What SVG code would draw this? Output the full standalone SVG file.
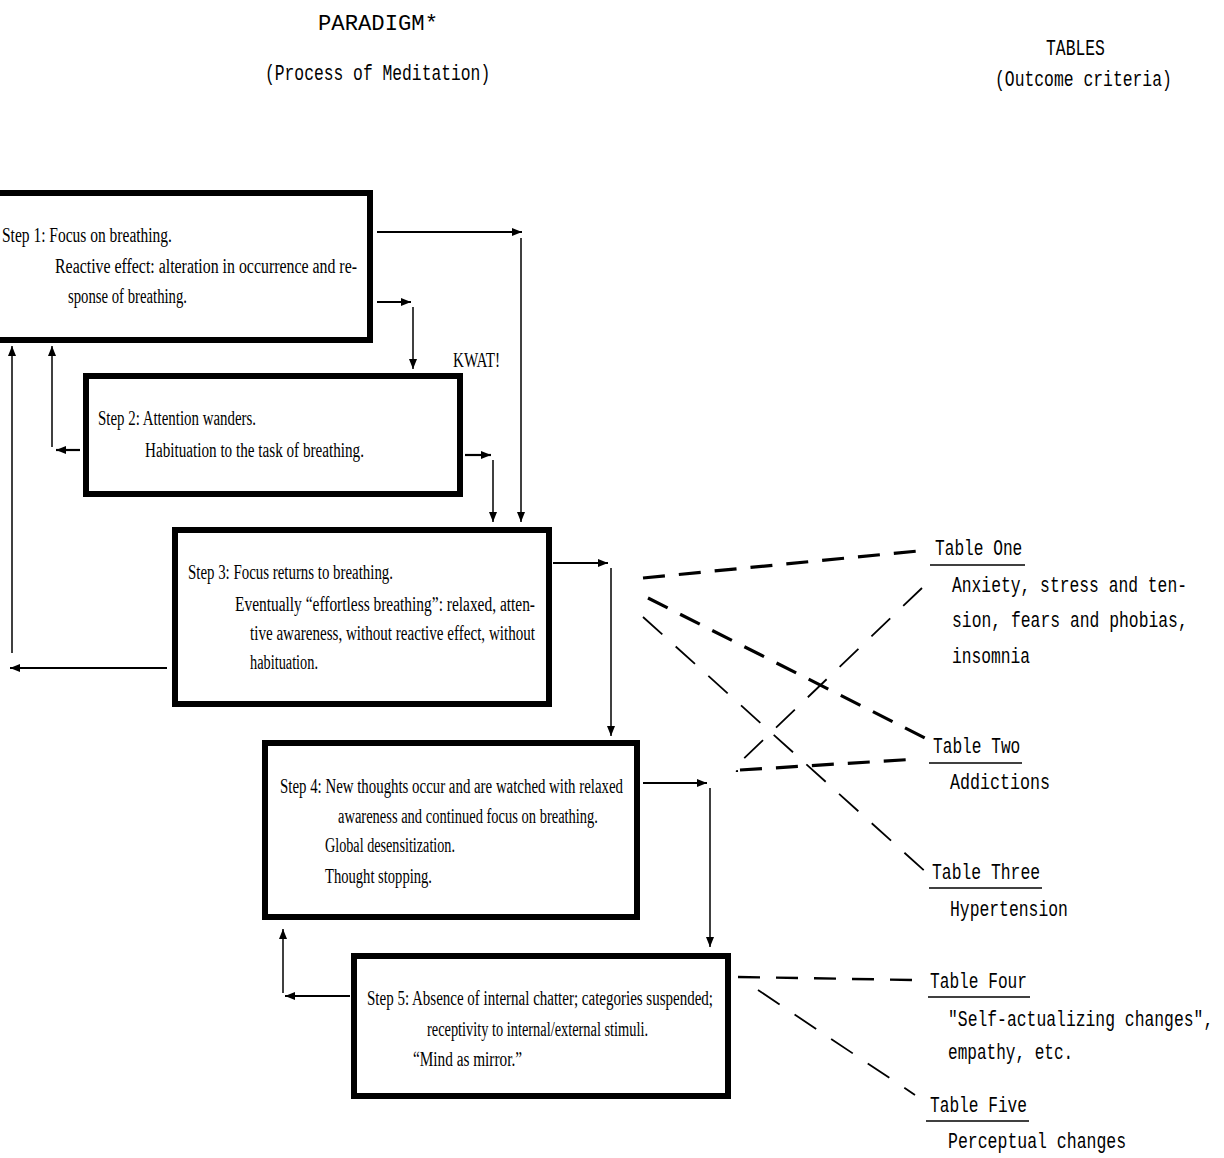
<svg xmlns="http://www.w3.org/2000/svg" width="1224" height="1158" viewBox="0 0 1224 1158">
<style>
.bx{fill:#fff;stroke:#000;stroke-width:6}
.t{font-family:"Liberation Serif","Times New Roman",serif;font-size:20px;fill:#000}
.m{font-family:"Liberation Mono","Courier New",monospace;font-size:22px;fill:#000}
.ln{stroke:#000;fill:none}
.ar{stroke:#000;fill:none;stroke-width:2.2;marker-end:url(#ah)}
.av{stroke:#000;fill:none;stroke-width:1.5;marker-end:url(#ah)}
.dk{stroke:#000;fill:none;stroke-width:3.2;stroke-dasharray:22 14}
.dt{stroke:#000;fill:none;stroke-width:1.8;stroke-dasharray:26 18}
.ul{stroke:#000;stroke-width:1.6}
</style>
<defs>
<marker id="ah" viewBox="0 0 10 8" refX="10" refY="4" markerWidth="10" markerHeight="8" markerUnits="userSpaceOnUse" orient="auto">
<path d="M0,0 L10,4 L0,8 Z" fill="#000"/>
</marker>
</defs>
<rect width="1224" height="1158" fill="#fff"/>

<g id="titles">
<text class="m" x="318" y="30" textLength="120" lengthAdjust="spacingAndGlyphs">PARADIGM*</text>
<text class="m" transform="translate(265,80) scale(0.742,1)">(Process of Meditation)</text>
<text class="m" transform="translate(1046,55) scale(0.745,1)">TABLES</text>
<text class="m" transform="translate(995,86) scale(0.745,1)">(Outcome criteria)</text>
</g>

<g id="step1">
<rect class="bx" x="-10" y="193" width="380" height="147"/>
<text class="t" x="2" y="242" textLength="170" lengthAdjust="spacingAndGlyphs">Step 1: Focus on breathing.</text>
<text class="t" x="55" y="273" textLength="302" lengthAdjust="spacingAndGlyphs">Reactive effect: alteration in occurrence and re-</text>
<text class="t" x="68" y="303" textLength="119" lengthAdjust="spacingAndGlyphs">sponse of breathing.</text>
</g>

<g id="kwat">
<text class="t" x="453" y="367" textLength="47" lengthAdjust="spacingAndGlyphs">KWAT!</text>
</g>

<g id="step2">
<rect class="bx" x="86" y="376" width="374" height="118"/>
<text class="t" x="98" y="425" textLength="158" lengthAdjust="spacingAndGlyphs">Step 2: Attention wanders.</text>
<text class="t" x="145" y="457" textLength="219" lengthAdjust="spacingAndGlyphs">Habituation to the task of breathing.</text>
</g>

<g id="step3">
<rect class="bx" x="175" y="530" width="374" height="174"/>
<text class="t" x="188" y="579" textLength="205" lengthAdjust="spacingAndGlyphs">Step 3: Focus returns to breathing.</text>
<text class="t" x="235" y="611" textLength="300" lengthAdjust="spacingAndGlyphs">Eventually “effortless breathing”: relaxed, atten-</text>
<text class="t" x="250" y="640" textLength="285" lengthAdjust="spacingAndGlyphs">tive awareness, without reactive effect, without</text>
<text class="t" x="250" y="669" textLength="68" lengthAdjust="spacingAndGlyphs">habituation.</text>
</g>

<g id="step4">
<rect class="bx" x="265" y="743" width="372" height="174"/>
<text class="t" x="280" y="793" textLength="343" lengthAdjust="spacingAndGlyphs">Step 4: New thoughts occur and are watched with relaxed</text>
<text class="t" x="338" y="823" textLength="260" lengthAdjust="spacingAndGlyphs">awareness and continued focus on breathing.</text>
<text class="t" x="325" y="852" textLength="130" lengthAdjust="spacingAndGlyphs">Global desensitization.</text>
<text class="t" x="325" y="883" textLength="107" lengthAdjust="spacingAndGlyphs">Thought stopping.</text>
</g>

<g id="step5">
<rect class="bx" x="354" y="956" width="374" height="140"/>
<text class="t" x="367" y="1005" textLength="346" lengthAdjust="spacingAndGlyphs">Step 5: Absence of internal chatter; categories suspended;</text>
<text class="t" x="427" y="1036" textLength="221" lengthAdjust="spacingAndGlyphs">receptivity to internal/external stimuli.</text>
<text class="t" x="413" y="1066" textLength="109" lengthAdjust="spacingAndGlyphs">“Mind as mirror.”</text>
</g>

<g id="table1">
<text class="m" transform="translate(935,555) scale(0.735,1)">Table One</text>
<line class="ul" x1="930" y1="565" x2="1025" y2="565"/>
<text class="m" transform="translate(952,592) scale(0.742,1)">Anxiety, stress and ten-</text>
<text class="m" transform="translate(952,627) scale(0.745,1)">sion, fears and phobias,</text>
<text class="m" transform="translate(952,663) scale(0.74,1)">insomnia</text>
</g>
<g id="table2">
<text class="m" transform="translate(933,753) scale(0.735,1)">Table Two</text>
<line class="ul" x1="929" y1="763" x2="1022" y2="763"/>
<text class="m" transform="translate(950,789) scale(0.758,1)">Addictions</text>
</g>
<g id="table3">
<text class="m" transform="translate(932,879) scale(0.745,1)">Table Three</text>
<line class="ul" x1="929" y1="888" x2="1042" y2="888"/>
<text class="m" transform="translate(950,916) scale(0.745,1)">Hypertension</text>
</g>
<g id="table4">
<text class="m" transform="translate(930,988) scale(0.735,1)">Table Four</text>
<line class="ul" x1="928" y1="997" x2="1030" y2="997"/>
<text class="m" transform="translate(948,1026) scale(0.745,1)">"Self-actualizing changes",</text>
<text class="m" transform="translate(948,1059) scale(0.73,1)">empathy, etc.</text>
</g>
<g id="table5">
<text class="m" transform="translate(930,1112) scale(0.735,1)">Table Five</text>
<line class="ul" x1="926" y1="1121" x2="1029" y2="1121"/>
<text class="m" transform="translate(948,1148) scale(0.75,1)">Perceptual changes</text>
</g>

<g id="connectors">
<line class="ar" x1="377" y1="232" x2="522" y2="232"/>
<line class="av" x1="521" y1="238" x2="521" y2="522"/>
<line class="ar" x1="377" y1="302" x2="411" y2="302"/>
<line class="av" x1="413" y1="307" x2="413" y2="369"/>
<line class="ar" x1="80" y1="450" x2="56" y2="450"/>
<line class="av" x1="52" y1="447" x2="52" y2="346"/>
<line class="ar" x1="465" y1="455" x2="491" y2="455"/>
<line class="av" x1="493" y1="460" x2="493" y2="522"/>
<line class="ar" x1="167" y1="668" x2="10" y2="668"/>
<line class="av" x1="12" y1="653" x2="12" y2="346"/>
<line class="ar" x1="553" y1="563" x2="608" y2="563"/>
<line class="av" x1="611" y1="568" x2="611" y2="736"/>
<line class="ar" x1="643" y1="783" x2="707" y2="783"/>
<line class="av" x1="710" y1="788" x2="710" y2="947"/>
<line class="ar" x1="350" y1="996" x2="285" y2="996"/>
<line class="av" x1="283" y1="993" x2="283" y2="929"/>

<line class="dk" x1="643" y1="578" x2="918" y2="551"/>
<line class="dk" x1="648" y1="598" x2="925" y2="738"/>
<line class="dt" x1="643" y1="617" x2="928" y2="874"/>
<path class="dt" d="M922,588 L737,765 Q731,772 738,771"/>
<line class="dk" x1="740" y1="770" x2="918" y2="759"/>
<line class="dk" x1="738" y1="977" x2="915" y2="980" style="stroke-width:2.4;stroke-dasharray:22 16"/>
<line class="dt" x1="758" y1="990" x2="915" y2="1095"/>
</g>
</svg>
